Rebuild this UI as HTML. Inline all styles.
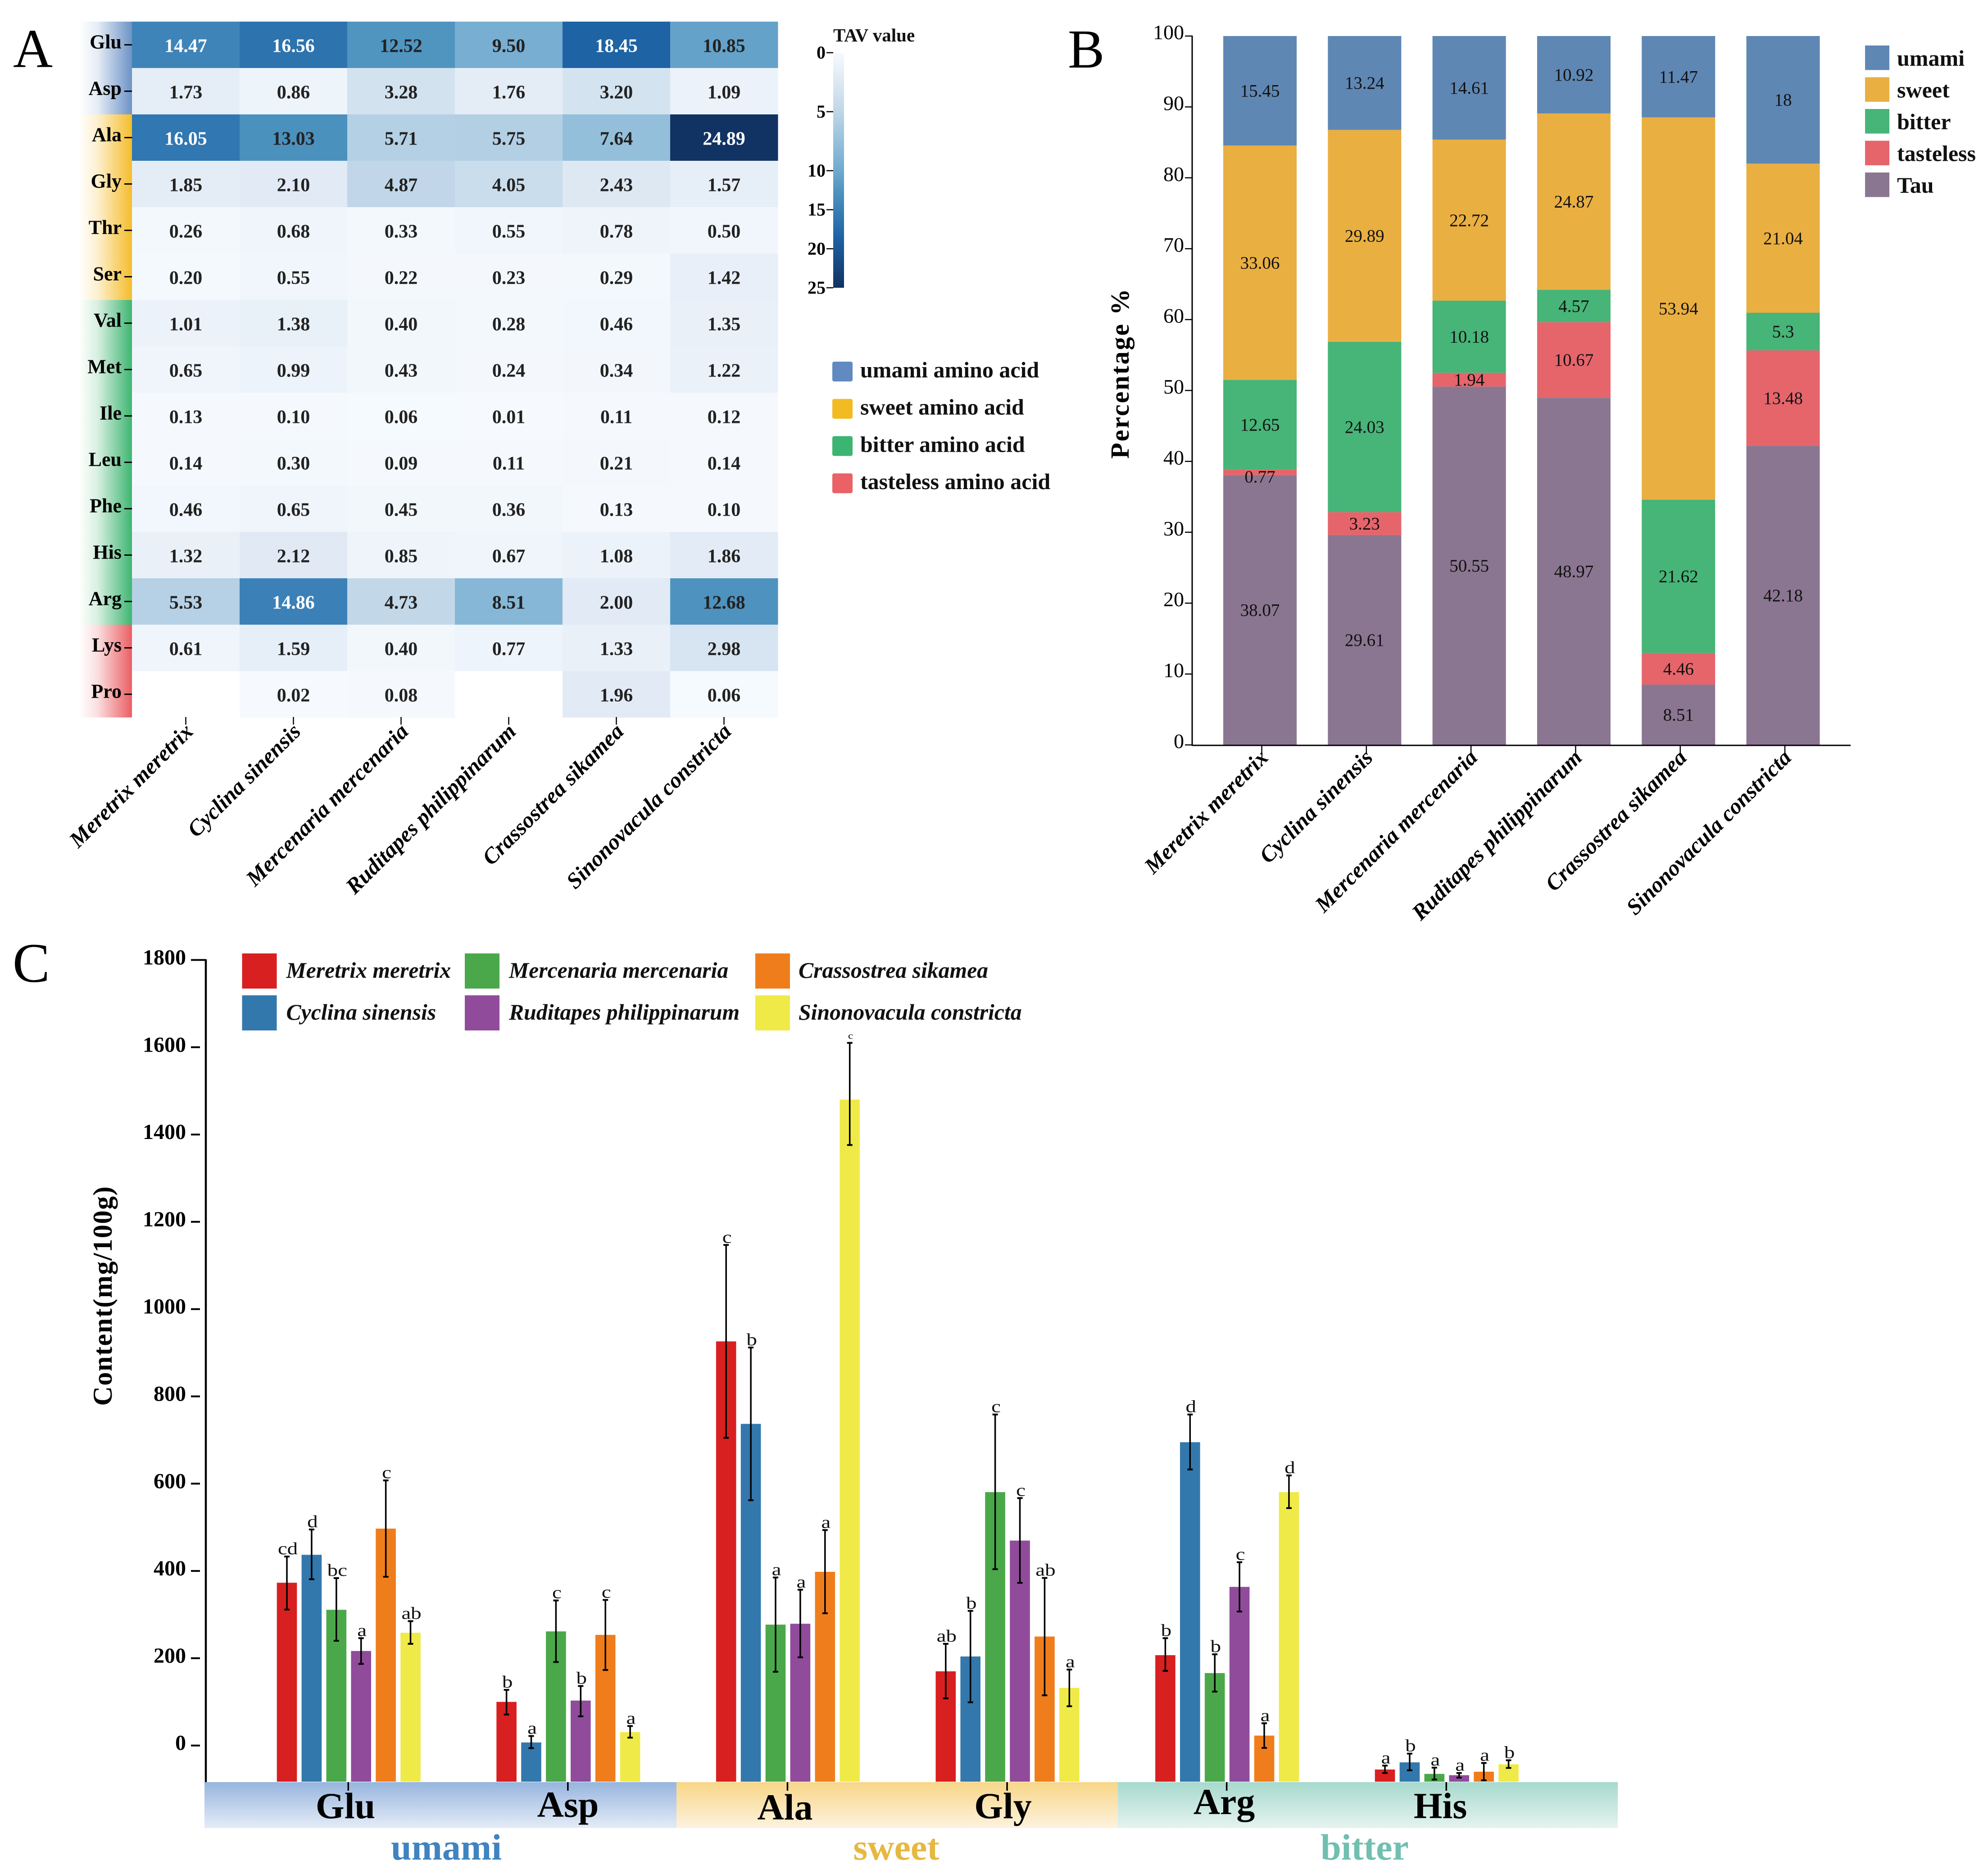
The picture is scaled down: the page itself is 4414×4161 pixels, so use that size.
<!DOCTYPE html>
<html lang="en">
<head>
<meta charset="utf-8">
<title>Amino acid TAV heatmap, taste composition and content</title>
<style>
html,body{margin:0;padding:0;background:#fff;}
svg{display:block;}
text{font-family:"Liberation Serif",serif;}
</style>
</head>
<body>
<svg id="figure" xmlns="http://www.w3.org/2000/svg" width="4414" height="4161" viewBox="0 0 4414 4161">
<defs>
<linearGradient id="strip-umami" x1="0" x2="1" y1="0" y2="0"><stop offset="0" stop-color="#fff"/><stop offset="0.35" stop-color="#e6edf6"/><stop offset="1" stop-color="#6d93c6"/></linearGradient>
<linearGradient id="strip-sweet" x1="0" x2="1" y1="0" y2="0"><stop offset="0" stop-color="#fff"/><stop offset="0.35" stop-color="#fdf0cf"/><stop offset="1" stop-color="#f4bd2c"/></linearGradient>
<linearGradient id="strip-bitter" x1="0" x2="1" y1="0" y2="0"><stop offset="0" stop-color="#fff"/><stop offset="0.35" stop-color="#d8f0e2"/><stop offset="1" stop-color="#3fb672"/></linearGradient>
<linearGradient id="strip-tasteless" x1="0" x2="1" y1="0" y2="0"><stop offset="0" stop-color="#fff"/><stop offset="0.35" stop-color="#fbdfe0"/><stop offset="1" stop-color="#ea5f64"/></linearGradient>
<linearGradient id="band-umami" x1="0" x2="0" y1="0" y2="1"><stop offset="0" stop-color="#97b5de"/><stop offset="1" stop-color="#e4ecf7"/></linearGradient>
<linearGradient id="band-sweet" x1="0" x2="0" y1="0" y2="1"><stop offset="0" stop-color="#f8d688"/><stop offset="1" stop-color="#fdf2de"/></linearGradient>
<linearGradient id="band-bitter" x1="0" x2="0" y1="0" y2="1"><stop offset="0" stop-color="#a7d9cd"/><stop offset="1" stop-color="#e5f3ef"/></linearGradient>
<linearGradient id="colorbar-gradient" x1="0" x2="0" y1="0" y2="1"></linearGradient>
</defs>
</svg>
<script>
/* ---------- shared categories ---------- */
const speciesNames = ['Meretrix meretrix','Cyclina sinensis','Mercenaria mercenaria','Ruditapes philippinarum','Crassostrea sikamea','Sinonovacula constricta'];

/* ---------- panel A data ---------- */
const aminoAcids = ['Glu','Asp','Ala','Gly','Thr','Ser','Val','Met','Ile','Leu','Phe','His','Arg','Lys','Pro'];
const aminoGroups = ['umami','umami','sweet','sweet','sweet','sweet','bitter','bitter','bitter','bitter','bitter','bitter','bitter','tasteless','tasteless'];
const tavGlu = [14.47,16.56,12.52,9.50,18.45,10.85];
const tavAsp = [1.73,0.86,3.28,1.76,3.20,1.09];
const tavAla = [16.05,13.03,5.71,5.75,7.64,24.89];
const tavGly = [1.85,2.10,4.87,4.05,2.43,1.57];
const tavThr = [0.26,0.68,0.33,0.55,0.78,0.50];
const tavSer = [0.20,0.55,0.22,0.23,0.29,1.42];
const tavVal = [1.01,1.38,0.40,0.28,0.46,1.35];
const tavMet = [0.65,0.99,0.43,0.24,0.34,1.22];
const tavIle = [0.13,0.10,0.06,0.01,0.11,0.12];
const tavLeu = [0.14,0.30,0.09,0.11,0.21,0.14];
const tavPhe = [0.46,0.65,0.45,0.36,0.13,0.10];
const tavHis = [1.32,2.12,0.85,0.67,1.08,1.86];
const tavArg = [5.53,14.86,4.73,8.51,2.00,12.68];
const tavLys = [0.61,1.59,0.40,0.77,1.33,2.98];
const tavPro = [null,0.02,0.08,null,1.96,0.06];
const tavRows = [tavGlu,tavAsp,tavAla,tavGly,tavThr,tavSer,tavVal,tavMet,tavIle,tavLeu,tavPhe,tavHis,tavArg,tavLys,tavPro];
const colorDomain = [0,2,5,7.64,10,12.5,15,18.45,25];
const colorRange = ['#f6fafe','#e2ebf5','#bfd6e8','#94bfda','#70a9cf','#5095c0','#3a80b6','#1e63a4','#113262'];
const colorbarTicks = [0,5,10,15,20,25];
const tasteLegendLabels = ['umami amino acid','sweet amino acid','bitter amino acid','tasteless amino acid'];

/* ---------- panel B data ---------- */
const percentTicks = [0,10,20,30,40,50,60,70,80,90,100];
const stackNames = ['Tau','tasteless','bitter','sweet','umami'];
const percentTau = [38.07,29.61,50.55,48.97,8.51,42.18];
const percentTasteless = [0.77,3.23,1.94,10.67,4.46,13.48];
const percentBitter = [12.65,24.03,10.18,4.57,21.62,5.3];
const percentSweet = [33.06,29.89,22.72,24.87,53.94,21.04];
const percentUmami = [15.45,13.24,14.61,10.92,11.47,18];
const stackSeries = [percentTau,percentTasteless,percentBitter,percentSweet,percentUmami];

/* ---------- panel C data ---------- */
const contentCategories = ['Glu','Asp','Ala','Gly','Arg','His'];
const contentTicks = [0,200,400,600,800,1000,1200,1400,1600,1800];
const contentMeretrix = [373,100,926,170,207,-55];
const contentCyclina = [437,7,737,204,695,-38.6];
const contentMercenaria = [311,261.5,277,580.6,166,-65];
const contentRuditapes = [216.6,103,279,469.6,363.5,-68];
const contentCrassostrea = [497,253.5,398,249.7,22.7,-60];
const contentSinonovacula = [258.4,30.6,1480,132,580.6,-43];
const highMeretrix = [433,127.5,1147,233,246,-46];
const highCyclina = [495,21.8,912,308.5,758.5,-18.6];
const highMercenaria = [383.6,332.4,385,758.5,209,-50.7];
const highRuditapes = [246,136.3,357,567,420,-63];
const highCrassostrea = [607.5,333.6,493.7,384,51,-40];
const highSinonovacula = [285,44.6,1610,174,618.9,-33.8];
const lowMeretrix = [311.5,71,705,108,171,-63];
const lowCyclina = [381,-6,562,99,632.5,-56.8];
const lowMercenaria = [240,191.3,169,404,123.5,-78];
const lowRuditapes = [187,66.8,202,372.7,307,-73.6];
const lowCrassostrea = [386.7,173,303,115,-5.5,-79.7];
const lowSinonovacula = [233,18,1376,90,544,-51.4];
const lettersMeretrix = ['cd','b','c','ab','b','a'];
const lettersCyclina = ['d','a','b','b','d','b'];
const lettersMercenaria = ['bc','c','a','c','b','a'];
const lettersRuditapes = ['a','b','a','c','c','a'];
const lettersCrassostrea = ['c','c','a','ab','a','a'];
const lettersSinonovacula = ['ab','a','c','a','d','b'];
const contentSeries = [contentMeretrix,contentCyclina,contentMercenaria,contentRuditapes,contentCrassostrea,contentSinonovacula];
const highSeries = [highMeretrix,highCyclina,highMercenaria,highRuditapes,highCrassostrea,highSinonovacula];
const lowSeries = [lowMeretrix,lowCyclina,lowMercenaria,lowRuditapes,lowCrassostrea,lowSinonovacula];
const letterSeries = [lettersMeretrix,lettersCyclina,lettersMercenaria,lettersRuditapes,lettersCrassostrea,lettersSinonovacula];
const groupBands = ['umami','sweet','bitter'];

/* ---------- helpers ---------- */
const SVGNS = 'http://www.w3.org/2000/svg';
const root = document.getElementById('figure');
function mk(tag, attrs, parent) {
  const el = document.createElementNS(SVGNS, tag);
  for (const k in attrs) el.setAttribute(k, attrs[k]);
  (parent || root).appendChild(el);
  return el;
}
function txt(s, attrs, parent) {
  const el = mk('text', attrs, parent);
  el.textContent = s;
  return el;
}
function slug(s) { return String(s).toLowerCase().replace(/[^a-z0-9]+/g, '-'); }
function hex(c) { return [1,3,5].map(i => parseInt(c.substr(i,2),16)); }
function heatColor(v) {
  let i = 0;
  while (i < colorDomain.length - 2 && v > colorDomain[i+1]) i++;
  const t = Math.min(1, Math.max(0, (v - colorDomain[i]) / (colorDomain[i+1] - colorDomain[i])));
  const a = hex(colorRange[i]), b = hex(colorRange[i+1]);
  return 'rgb(' + a.map((x,k) => Math.round(x + (b[k]-x)*t)).join(',') + ')';
}

/* ---------- panel letters ---------- */
const panelA = txt('A', {x:29, y:149, 'font-size':122, fill:'#000'});


const panelB = txt('B', {x:2371, y:150, 'font-size':122, fill:'#000'});


const panelC = txt('C', {x:28, y:2180, 'font-size':124, fill:'#000'});



/* ---------- panel A: heatmap ---------- */
const gA = mk('g', {});


const heatX0 = 293, heatY0 = 48, heatCol = 239, heatRow = 103;
const heatX = c => heatX0 + c * heatCol;
const heatY = r => heatY0 + r * heatRow;

tavRows.forEach((row, r) => {
  const strip = mk('rect', {x:175, y:heatY(r), width:heatX0-175, height:heatRow, fill:'url(#strip-' + aminoGroups[r] + ')'}, gA);
  
  
  row.forEach((v, c) => {
    if (v === null) return;
    const cell = mk('rect', {x:heatX(c), y:heatY(r), width:heatCol+0.5, height:heatRow+0.5, fill:heatColor(v)}, gA);
    
    
  });
});
tavRows.forEach((row, r) => {
  const cy = heatY(r) + heatRow/2;
  const rowLabel = txt(aminoAcids[r], {x:270, y:cy+8, 'text-anchor':'end', 'font-size':44, 'font-weight':'bold', fill:'#000'}, gA);
  
  
  const rowTick = mk('line', {x1:276, x2:293, y1:cy, y2:cy, stroke:'#000', 'stroke-width':3}, gA);
  
  
  row.forEach((v, c) => {
    if (v === null) return;
    const val = txt(v.toFixed(2), {x:heatX(c)+heatCol/2, y:cy+16, 'text-anchor':'middle', 'font-size':42, 'font-weight':'bold', fill: v >= 14 ? '#fff' : '#222'}, gA);
    
    
  });
});
speciesNames.forEach((name, c) => {
  const cx = heatX(c) + heatCol/2;
  const tick = mk('line', {x1:cx, x2:cx, y1:1592, y2:1609, stroke:'#000', 'stroke-width':2.5}, gA);
  
  
  const label = txt(name, {transform:'translate(' + (cx+19) + ' 1627) rotate(-45)', 'text-anchor':'end', 'font-size':49.5, 'font-style':'italic', 'font-weight':'bold', fill:'#000'}, gA);
  
  
});

/* colour bar */
const cbY = v => v <= 10 ? 117 + v * 26.2 : 379 + (v - 10) * 17.33;
const cbGrad = document.getElementById('colorbar-gradient');
colorDomain.forEach((v, i) => {
  mk('stop', {offset:(cbY(v)-cbY(0))/(cbY(25)-cbY(0)), 'stop-color':colorRange[i]}, cbGrad);
});
const gCb = mk('g', {});


const cbTitle = txt('TAV value', {x:1850, y:92, 'font-size':41, 'font-weight':'bold', fill:'#111'}, gCb);


const cbRect = mk('rect', {x:1850, y:cbY(0), width:24, height:cbY(25)-cbY(0), fill:'url(#colorbar-gradient)'}, gCb);


colorbarTicks.forEach(t => {
  const tl = mk('line', {x1:1835, x2:1850, y1:cbY(t), y2:cbY(t), stroke:'#000', 'stroke-width':2.5}, gCb);
  
  
  const lab = txt(String(t), {x:1833, y:cbY(t)+13, 'text-anchor':'end', 'font-size':40, 'font-weight':'bold', fill:'#000'}, gCb);
  
  
});

/* taste legend */
const tasteColors = ['#608ac0','#f2bb22','#3cb572','#ea6266'];
tasteLegendLabels.forEach((name, i) => {
  const yTop = 803 + i * 82.7;
  const sw = mk('rect', {x:1848, y:yTop, width:45, height:44, rx:4, fill:tasteColors[i]});
  
  
  const lab = txt(name, {x:1910, y:yTop+35, 'font-size':50, 'font-weight':'bold', fill:'#111'});
  
  
});

/* ---------- panel B: stacked bars ---------- */
const gB = mk('g', {});


const pctY = v => 1654 - v * 15.74;
const stackBarX = c => 2716 + c * 232.3;
const stackBarW = 163;
const stackColors = ['#8b7691','#e5656b','#47b478','#e9af41','#5f87b4'];
speciesNames.forEach((name, c) => {
  let acc = 0;
  stackSeries.forEach((series, s) => {
    const v = series[c];
    const seg = mk('rect', {x:stackBarX(c), y:pctY(acc+v), width:stackBarW, height:pctY(acc)-pctY(acc+v), fill:stackColors[s]}, gB);
    
    
    const mid = pctY(acc + v/2);
    const label = txt(String(v), {x:stackBarX(c)+stackBarW/2, y:mid + 13 + (v < 1 ? 10 : 0), 'text-anchor':'middle', 'font-size':39, fill:'#111'}, gB);
    
    
    acc += v;
  });
  const cx = stackBarX(c) + stackBarW/2 + 4;
  const tick = mk('line', {x1:cx, x2:cx, y1:1655, y2:1672, stroke:'#000', 'stroke-width':2.5}, gB);
  
  
  const lab = txt(name, {transform:'translate(' + (cx+17) + ' 1685) rotate(-45)', 'text-anchor':'end', 'font-size':49.5, 'font-style':'italic', 'font-weight':'bold', fill:'#000'}, gB);
  
  
});
const bAxisY = mk('line', {x1:2647, x2:2647, y1:79, y2:1656, stroke:'#000', 'stroke-width':3}, gB);


const bAxisX = mk('line', {x1:2647, x2:4109, y1:1655, y2:1655, stroke:'#000', 'stroke-width':3}, gB);


percentTicks.forEach(t => {
  const tl = mk('line', {x1:2631, x2:2647, y1:pctY(t), y2:pctY(t), stroke:'#000', 'stroke-width':2.5}, gB);
  
  
  const lab = txt(String(t), {x:2629, y:pctY(t)+7, 'text-anchor':'end', 'font-size':46, fill:'#000'}, gB);
  
  
});
const bTitle = txt('Percentage %', {transform:'translate(2506 830) rotate(-90)', 'text-anchor':'middle', 'font-size':58, 'font-weight':'bold', textLength:377, lengthAdjust:'spacing', fill:'#000'}, gB);


stackNames.slice().reverse().forEach((name, i) => {
  const color = stackColors[stackColors.length - 1 - i];
  const yTop = 101 + i * 70.5;
  const sw = mk('rect', {x:4141, y:yTop, width:54, height:54.5, fill:color}, gB);
  
  
  const lab = txt(name, {x:4212, y:yTop+45, 'font-size':50, 'font-weight':'bold', fill:'#111'}, gB);
  
  
});

/* ---------- panel C: grouped bars ---------- */
const gC = mk('g', {});


const contentY = v => 3875.7 - v * 0.969;
const contentBase = 3956;
const groupX = g => 614.7 + g * 487.6;
const barStep = 54.9, barW = 44.6;
const speciesColors = ['#d82020','#3378ad','#4ba84a','#904c9b','#f07d1c','#f0ea48'];

contentCategories.forEach((cat, g) => {
  contentSeries.forEach((series, s) => {
    const x = groupX(g) + s * barStep;
    const top = contentY(series[g]);
    const bar = mk('rect', {x:x, y:top, width:barW, height:contentBase-top, fill:speciesColors[s]}, gC);
    
    
  });
});
contentCategories.forEach((cat, g) => {
  contentSeries.forEach((series, s) => {
    const cx = groupX(g) + s * barStep + barW/2;
    const hi = contentY(highSeries[s][g]), lo = contentY(lowSeries[s][g]);
    const stem = mk('line', {x1:cx, x2:cx, y1:hi, y2:lo, stroke:'#000', 'stroke-width':3.5}, gC);
    
    
    const capT = mk('line', {x1:cx-6, x2:cx+6, y1:hi, y2:hi, stroke:'#000', 'stroke-width':4}, gC);
    
    
    const capB = mk('line', {x1:cx-6, x2:cx+6, y1:lo, y2:lo, stroke:'#000', 'stroke-width':4}, gC);
    
    
    const small = highSeries[s][g] > 1500;
    const letter = txt(letterSeries[s][g], {transform:'translate(' + (cx+2) + ' ' + (hi - (small ? 9 : 5)) + ') scale(1 0.82)', 'text-anchor':'middle', 'font-size': small ? 26 : 47, fill:'#111'}, gC);
    
    
  });
});

const cAxis = mk('line', {x1:457, x2:457, y1:2130, y2:3958, stroke:'#000', 'stroke-width':4.5}, gC);


contentTicks.forEach(t => {
  const tl = mk('line', {x1:424, x2: t === 1800 ? 457 : 444, y1:contentY(t), y2:contentY(t), stroke:'#000', 'stroke-width':4}, gC);
  
  
  const lab = txt(String(t), {x:413, y:contentY(t)+10, 'text-anchor':'end', 'font-size':48, 'font-weight':'bold', fill:'#000'}, gC);
  
  
});
const cTitle = txt('Content(mg/100g)', {transform:'translate(248 2878) rotate(-90)', 'text-anchor':'middle', 'font-size':60, 'font-weight':'bold', textLength:487, lengthAdjust:'spacing', fill:'#000'}, gC);



/* taste bands below the axis */
const bandEdges = {umami:[454,1502], sweet:[1502,2481.6], bitter:[2481.6,3592]};
const bandTextColor = {umami:'#3f83c1', sweet:'#e6b840', bitter:'#70bfb0'};
const bandTextCenter = {umami:991, sweet:1990, bitter:3030};
groupBands.forEach(name => {
  const e = bandEdges[name];
  const band = mk('rect', {x:e[0], y:3957, width:e[1]-e[0], height:102, fill:'url(#band-' + name + ')'}, gC);
  
  
  const lab = txt(name, {x:bandTextCenter[name], y:4129, 'text-anchor':'middle', 'font-size':82, 'font-weight':'bold', fill:bandTextColor[name]}, gC);
  
  
});
const categoryBaseline = {Glu:4037, Asp:4034, Ala:4040, Gly:4037, Arg:4028, His:4037};
const categoryCenter = {Glu:767, Asp:1261, Ala:1743, Gly:2227, Arg:2718, His:3198};
contentCategories.forEach((cat, g) => {
  const cx = groupX(g) + (5*barStep + barW)/2;
  const tick = mk('line', {x1:cx-1, x2:cx-1, y1:3957, y2:3976, stroke:'#000', 'stroke-width':3.5}, gC);
  
  
  const lab = txt(cat, {x:categoryCenter[cat], y:categoryBaseline[cat], 'text-anchor':'middle', 'font-size':82, 'font-weight':'bold', fill:'#000'}, gC);
  
  
});

/* species legend */
const legendColX = [537.5,1032,1677];
const legendTextX = [635.5,1130,1773];
speciesNames.forEach((name, i) => {
  const col = Math.floor(i/2), row = i % 2;
  const yTop = 2117 + row * 93;
  const sw = mk('rect', {x:legendColX[col], y:yTop, width:77, height:78, fill:speciesColors[i]}, gC);
  
  
  const lab = txt(name, {x:legendTextX[col], y:yTop+54, 'font-size':49.7, 'font-style':'italic', 'font-weight':'bold', fill:'#111'}, gC);
  
  
});
</script>
</body>
</html>
